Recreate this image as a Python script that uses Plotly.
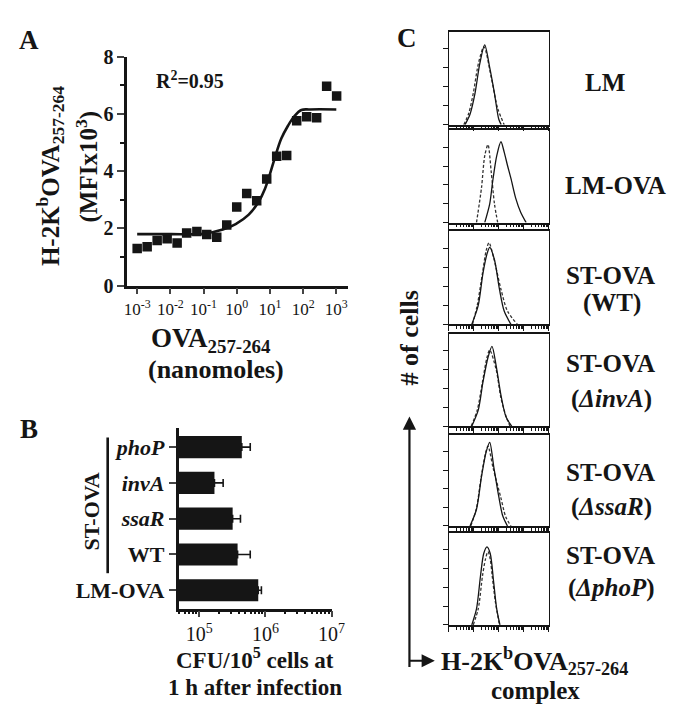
import plotly.graph_objects as go

W, H = 683, 719
def px(x): return x / W
def py(y): return 1 - y / H

FONT = "Liberation Serif"
INK = "#151515"

# ---------------- Panel A data ----------------
ova_nmol = [0.001, 0.002, 0.004, 0.008, 0.016, 0.031, 0.063, 0.125, 0.25, 0.5,
            1, 2, 4, 8, 16, 32, 64, 128, 256, 512, 1024]
mfi_k = [1.30, 1.36, 1.58, 1.64, 1.49, 1.84, 1.89, 1.79, 1.69, 2.12,
         2.75, 3.22, 2.97, 3.73, 4.52, 4.55, 5.76, 5.90, 5.87, 6.97, 6.63]
fit_nmol = [0.001, 0.01, 0.1, 0.38, 0.93, 2.3, 4.6, 7.1, 10, 14, 22, 35, 55, 89, 160, 1000]
fit_mfi = [1.80, 1.80, 1.81, 1.96, 2.15, 2.48, 2.94, 3.39, 3.90, 4.46, 5.14, 5.59, 5.93, 6.14, 6.16, 6.16]
a_xticks = [1e-3, 1e-2, 1e-1, 1, 10, 100, 1000]
a_xticktext = ["10<sup>-3</sup>", "10<sup>-2</sup>", "10<sup>-1</sup>", "10<sup>0</sup>",
               "10<sup>1</sup>", "10<sup>2</sup>", "10<sup>3</sup>"]

# ---------------- Panel B data ----------------
strains = ["LM-OVA", "WT", "ssaR", "invA", "phoP"]
strain_labels = ["<b>LM-OVA</b>", "<b>WT</b>", "<b><i>ssaR</i></b>", "<b><i>invA</i></b>", "<b><i>phoP</i></b>"]
cfu = [7.8e5, 3.8e5, 3.2e5, 1.7e5, 4.4e5]
cfu_err = [0.9e5, 2.1e5, 1.0e5, 0.6e5, 1.5e5]
b_xticks = [1e5, 1e6, 1e7]
b_xticktext = ["10<sup>5</sup>", "10<sup>6</sup>", "10<sup>7</sup>"]

# ---------------- Panel C data (x in log10 decades, y = % of max) ----------------
hist_names = ["LM", "LM-OVA", "WT", "invA", "ssaR", "phoP"]
solid_dec = [
    [0.65, 0.85, 1.05, 1.24, 1.44, 1.64, 1.83, 2.0, 2.1],
    [1.44, 1.64, 1.76, 1.92, 2.09, 2.22, 2.35, 2.49, 2.68, 2.88, 3.1],
    [0.92, 1.18, 1.37, 1.54, 1.64, 1.83, 2.03, 2.22, 2.49],
    [0.92, 1.18, 1.37, 1.57, 1.73, 1.90, 2.09, 2.29, 2.52],
    [0.85, 1.11, 1.31, 1.50, 1.64, 1.80, 2.00, 2.16, 2.35],
    [0.92, 1.11, 1.27, 1.40, 1.53, 1.66, 1.80, 1.92, 2.05],
]
solid_cnt = [
    [0, 11, 33, 64, 84, 60, 33, 6, 0],
    [0, 20, 44, 71, 86, 75, 61, 47, 26, 11, 0],
    [0, 20, 54, 75, 81, 68, 37, 14, 0],
    [0, 17, 47, 73, 85, 64, 33, 10, 0],
    [0, 18, 53, 80, 90, 64, 32, 11, 0],
    [0, 17, 52, 76, 83, 76, 45, 17, 0],
]
dashed_dec = [
    [0.60, 0.80, 0.98, 1.20, 1.41, 1.70, 1.96, 2.22],
    [1.11, 1.31, 1.44, 1.57, 1.70, 1.83, 1.96],
    [0.95, 1.14, 1.35, 1.50, 1.61, 1.80, 2.09, 2.35, 2.75],
    [0.90, 1.14, 1.35, 1.52, 1.64, 1.90, 2.09, 2.30, 2.45],
    [0.88, 1.10, 1.30, 1.47, 1.57, 1.78, 2.09, 2.28, 2.49],
    [0.98, 1.18, 1.35, 1.47, 1.57, 1.66, 1.74, 1.87, 2.03],
]
dashed_cnt = [
    [0, 12, 33, 66, 82, 50, 17, 0],
    [0, 37, 71, 83, 54, 20, 0],
    [0, 20, 54, 78, 86, 70, 37, 14, 0],
    [0, 17, 47, 72, 81, 60, 30, 10, 0],
    [0, 18, 53, 78, 86, 62, 30, 10, 0],
    [0, 17, 52, 70, 78, 70, 52, 24, 0],
]
c_labels = [
    ["<b>LM</b>"],
    ["<b>LM-OVA</b>"],
    ["<b>ST-OVA</b>", "<b>(WT)</b>"],
    ["<b>ST-OVA</b>", "<b>(<i>ΔinvA</i>)</b>"],
    ["<b>ST-OVA</b>", "<b>(<i>ΔssaR</i>)</b>"],
    ["<b>ST-OVA</b>", "<b>(<i>ΔphoP</i>)</b>"],
]

fig = go.Figure()

# Panel A
fig.add_trace(go.Scatter(x=fit_nmol, y=fit_mfi, mode="lines", line=dict(color=INK, width=2.6, shape="spline"),
                         xaxis="x", yaxis="y", showlegend=False, hoverinfo="skip"))
fig.add_trace(go.Scatter(x=ova_nmol, y=mfi_k, mode="markers",
                         marker=dict(symbol="square", size=9.5, color=INK),
                         xaxis="x", yaxis="y", showlegend=False))

# Panel B
fig.add_trace(go.Bar(x=cfu, y=list(range(len(strains))), orientation="h", width=0.62,
                     marker=dict(color=INK, line=dict(width=0)),
                     error_x=dict(type="data", array=cfu_err, arrayminus=[0] * len(cfu), symmetric=False,
                                  color=INK, thickness=1.6, width=4),
                     xaxis="x2", yaxis="y2", showlegend=False, name="CFU"))

# Panel C
box_px = [(13, 109), (115, 210), (219, 315), (325, 420), (429, 523), (530, 625)]
c_x0, c_x1 = 448.3, 550.5
minor_c = [m * 10 ** d for d in range(0, 4) for m in range(2, 10)]
for i in range(6):
    ax = i + 3
    fig.add_trace(go.Scatter(x=[10 ** v for v in dashed_dec[i]], y=dashed_cnt[i], mode="lines",
                             line=dict(color="#333", width=1.3, dash="3px,2px", shape="spline", smoothing=0.8),
                             xaxis=f"x{ax}", yaxis=f"y{ax}", showlegend=False))
    fig.add_trace(go.Scatter(x=[10 ** v for v in solid_dec[i]], y=solid_cnt[i], mode="lines",
                             line=dict(color=INK, width=1.3, shape="spline", smoothing=0.8),
                             xaxis=f"x{ax}", yaxis=f"y{ax}", showlegend=False))

layout = dict(
    width=W, height=H, margin=dict(l=0, r=0, t=0, b=0),
    paper_bgcolor="white", plot_bgcolor="white",
    font=dict(family=FONT, color=INK),
    xaxis=dict(domain=[px(119), px(345)], type="log", range=[-3.3, 3.35],
               tickvals=a_xticks, ticktext=a_xticktext, ticks="outside", ticklen=6, tickwidth=2,
               showline=True, linewidth=2.6, linecolor=INK, showgrid=False, zeroline=False,
               tickfont=dict(family=FONT, size=17, color=INK), anchor="y"),
    yaxis=dict(domain=[py(275), py(39)], range=[0, 8], tickvals=[0, 2, 4, 6, 8],
               ticktext=["<b>0</b>", "<b>2</b>", "<b>4</b>", "<b>6</b>", "<b>8</b>"],
               ticks="outside", ticklen=7, tickwidth=2,
               minor=dict(tickvals=[1, 3, 5, 7], ticks="outside", ticklen=4, tickwidth=2, tickcolor=INK),
               showline=True, linewidth=2.6, linecolor=INK, showgrid=False, zeroline=False,
               tickfont=dict(family=FONT, size=20, color=INK), anchor="x"),
    xaxis2=dict(domain=[px(171.7), px(328.3)], type="log", range=[4.69, 7.0],
                tickvals=b_xticks, ticktext=b_xticktext, ticks="outside", ticklen=6, tickwidth=2,
                minor=dict(tickvals=[m * 10 ** d for d in (4, 5, 6) for m in range(2, 10)],
                           ticks="outside", ticklen=3, tickwidth=1.5, tickcolor=INK),
                showline=True, linewidth=2.6, linecolor=INK, showgrid=False, zeroline=False,
                tickfont=dict(family=FONT, size=20, color=INK), anchor="y2"),
    yaxis2=dict(domain=[py(608.3), py(421.7)], range=[-0.515, 4.54],
                tickvals=list(range(len(strains))), ticktext=strain_labels,
                ticks="outside", ticklen=7, tickwidth=2,
                showline=True, linewidth=2.6, linecolor=INK, showgrid=False, zeroline=False,
                tickfont=dict(family=FONT, size=22, color=INK), anchor="x2"),
)
for i, (t, b) in enumerate(box_px):
    ax = i + 3
    layout[f"xaxis{ax}"] = dict(domain=[px(c_x0), px(c_x1)], type="log", range=[0, 4],
                                tickvals=[1, 10, 100, 1000, 10000], showticklabels=False,
                                ticks="outside", ticklen=5, tickwidth=1.2, tickcolor=INK,
                                minor=dict(tickvals=minor_c, ticks="outside", ticklen=3, tickwidth=1, tickcolor=INK),
                                showline=True, mirror=True, linewidth=1.6, linecolor=INK,
                                showgrid=False, zeroline=False, anchor=f"y{ax}")
    layout[f"yaxis{ax}"] = dict(domain=[py(b), py(t)], range=[0, 98], tickvals=[0, 20, 40, 60, 80],
                                showticklabels=False, ticks="outside", ticklen=5, tickwidth=1.2, tickcolor=INK,
                                showline=True, mirror=True, linewidth=1.3, linecolor=INK,
                                showgrid=False, zeroline=False, anchor=f"x{ax}")
fig.update_layout(**layout)

ann = []
def text(x, y, s, size, angle=0, xanchor="center"):
    ann.append(dict(x=px(x), y=py(y), xref="paper", yref="paper", text=s, showarrow=False,
                    font=dict(family=FONT, size=size, color=INK), textangle=angle,
                    xanchor=xanchor, yanchor="middle"))

# panel letters
text(18, 22, "<b>A</b>", 27)
text(18, 423, "<b>B</b>", 27)
text(405, 20, "<b>C</b>", 27)

# Panel A texts
text(183, 63, "<b>R<sup>2</sup>=0.95</b>", 20)
text(40, 162, "<b>H-2K<sup>b</sup>OVA<sub>257-264</sub></b>", 25, angle=-90)
text(78, 152, "<b>(MFIx10<sup>3</sup>)</b>", 25, angle=-90)
text(205, 331, "<b>OVA<sub>257-264</sub></b>", 27)
text(210, 362, "<b>(nanomoles)</b>", 26)

# Panel B texts
text(82, 508, "<b>ST-OVA</b>", 22, angle=-90)
text(250, 660, "<b>CFU/10<sup>5</sup> cells at</b>", 23)
text(250, 690, "<b>1 h after infection</b>", 23)

# Panel C texts
label_y = [[65], [172], [265, 293], [355, 392], [468, 503], [553, 587]]
label_x = [[608], [619], [614, 615], [614, 615], [614, 615], [614, 615]]
for i in range(6):
    for s, yy, xx in zip(c_labels[i], label_y[i], label_x[i]):
        text(xx, yy, s, 25)
text(408, 329, "<b># of cells</b>", 26, angle=-90)
text(438, 662, "<b>H-2K<sup>b</sup>OVA<sub>257-264</sub></b>", 26, xanchor="left")
text(537, 693, "<b>complex</b>", 25)

# arrows
ann.append(dict(x=px(408), y=py(410), xref="paper", yref="paper", ax=0, ay=252, text="",
                showarrow=True, arrowhead=2, arrowsize=1.2, arrowwidth=2.2, arrowcolor=INK))
ann.append(dict(x=px(434), y=py(662), xref="paper", yref="paper", ax=-27, ay=0, text="",
                showarrow=True, arrowhead=2, arrowsize=1.2, arrowwidth=2.2, arrowcolor=INK))

fig.update_layout(annotations=ann)

# bracket line in panel B
fig.add_shape(type="line", xref="paper", yref="paper", x0=px(99), x1=px(99), y0=py(431.7), y1=py(571.7),
              line=dict(color=INK, width=2.6))

fig.write_html("out.html")
